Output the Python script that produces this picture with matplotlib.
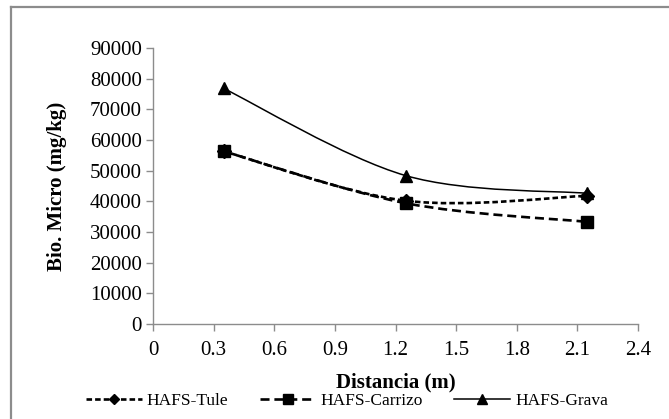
import numpy as np
import matplotlib
matplotlib.use("Agg")
import matplotlib.pyplot as plt
from matplotlib.path import Path
from matplotlib.patches import PathPatch
from matplotlib.lines import Line2D

plt.rcParams['font.family'] = ['Liberation Serif', 'DejaVu Serif']
plt.rcParams['lines.scale_dashes'] = False

distancia = [0.35, 1.25, 2.15]
tule = [56300, 40200, 41800]
carrizo = [56300, 39400, 33300]
grava = [76800, 48400, 42600]
series_names = ["HAFS-Tule", "HAFS-Carrizo", "HAFS-Grava"]
x_ticks = [0, 0.3, 0.6, 0.9, 1.2, 1.5, 1.8, 2.1, 2.4]
y_ticks = [0, 10000, 20000, 30000, 40000, 50000, 60000, 70000, 80000, 90000]

fig = plt.figure(figsize=(6.69, 4.19), dpi=100)
ax = fig.add_axes([153/669, 1-324/419, (638-153)/669, (324-48)/419])

def smooth_path(xs, ys):
    P = np.column_stack([xs, ys]).astype(float)
    n = len(P)
    verts = [P[0]]
    codes = [Path.MOVETO]
    for i in range(n-1):
        p0 = P[i-1] if i > 0 else P[i]
        p1 = P[i]
        p2 = P[i+1]
        p3 = P[i+2] if i+2 < n else P[i+1]
        c1 = p1 + (p2 - p0) / 6.0
        c2 = p2 - (p3 - p1) / 6.0
        verts += [c1, c2, p2]
        codes += [Path.CURVE4]*3
    return Path(verts, codes)

styles = [
    dict(data=tule, dashes=(4.0, 2.2), lw=1.9, marker='D', ms=7, lms=5),
    dict(data=carrizo, dashes=(6.5, 3.5), lw=1.9, marker='s', ms=8.5, lms=6.5),
    dict(data=grava, dashes=None, lw=1.1, marker='^', ms=9, lms=6.5),
]

handles = []
for name, st in zip(series_names, styles):
    ls = '-' if st['dashes'] is None else (0, st['dashes'])
    patch = PathPatch(smooth_path(distancia, st['data']), facecolor='none',
                      edgecolor='black', lw=st['lw'], linestyle=ls,
                      capstyle='butt')
    ax.add_patch(patch)
    ax.plot(distancia, st['data'], linestyle='none', marker=st['marker'],
            ms=st['ms'], color='black')
    handles.append(Line2D([], [], color='black', lw=st['lw'], linestyle=ls,
                          marker=st['marker'], ms=st['lms'], label=name))

ax.set_xlim(0, 2.4)
ax.set_ylim(0, 90000)
ax.set_xticks(x_ticks)
ax.set_xticklabels([("%g" % v) for v in x_ticks])
ax.set_yticks(y_ticks)
ax.set_yticklabels([str(v) for v in y_ticks])
for s in ['top', 'right']:
    ax.spines[s].set_visible(False)
for s in ['left', 'bottom']:
    ax.spines[s].set_color('#8c8c8c')
    ax.spines[s].set_linewidth(1.0)
ax.tick_params(axis='both', colors='#8c8c8c', length=5, width=1.0,
               labelcolor='black', labelsize=15)
ax.tick_params(axis='x', pad=7)
ax.tick_params(axis='y', pad=3)

ax.set_xlabel("Distancia (m)", fontsize=15, fontweight='bold')
ax.set_ylabel("Bio. Micro (mg/kg)", fontsize=15, fontweight='bold')
ax.xaxis.set_label_coords(0.5, (324-372)/276)
ax.yaxis.set_label_coords((67-153)/485, 0.5)

fig.legend(handles=handles, loc='center', bbox_to_anchor=(347/669, 1-401/419),
           ncol=3, frameon=False, fontsize=12.5, handlelength=3.2,
           columnspacing=1.8, handletextpad=0.3)

fig.add_artist(Line2D([11/669, 1.0], [1-7/419, 1-7/419], transform=fig.transFigure,
                      color='#8c8c8c', lw=1.6))
fig.add_artist(Line2D([11/669, 11/669], [0, 1-7/419], transform=fig.transFigure,
                      color='#8c8c8c', lw=1.6))

fig.savefig("out.png", dpi=100)
